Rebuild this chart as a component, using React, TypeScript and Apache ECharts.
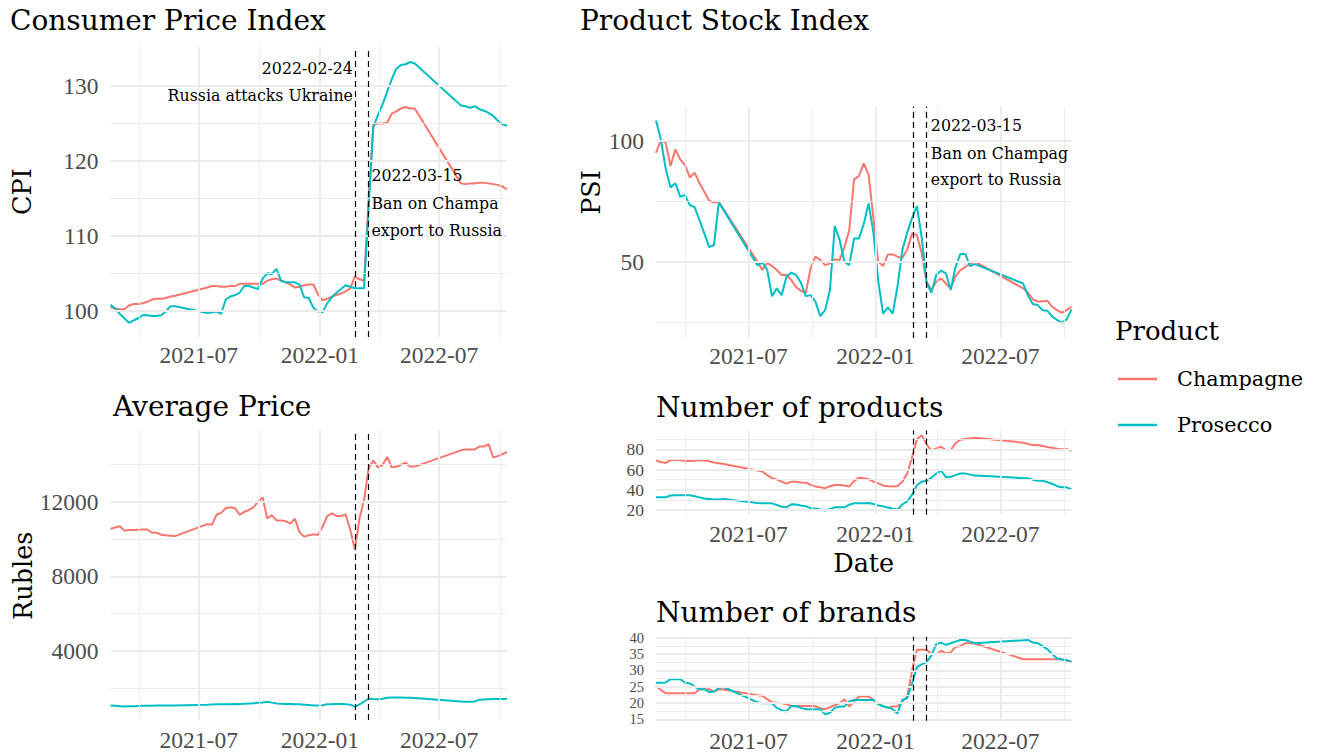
import React, { useEffect, useRef } from "react";
import * as echarts from "echarts";

// ---------------- data ----------------
const dates = [
  "2021-02-17","2021-02-24","2021-03-03","2021-03-10","2021-03-17","2021-03-24","2021-03-31","2021-04-07","2021-04-14","2021-04-21","2021-04-28","2021-05-05","2021-05-12","2021-05-19","2021-05-26",
  "2021-07-14","2021-07-21","2021-07-28","2021-08-04","2021-08-11","2021-08-18","2021-08-25","2021-09-01","2021-09-08","2021-09-15","2021-09-22","2021-09-29","2021-10-06","2021-10-13","2021-10-20","2021-10-27","2021-11-03","2021-11-10","2021-11-17","2021-11-24","2021-12-01","2021-12-08","2021-12-15","2021-12-22","2021-12-29","2022-01-05","2022-01-12","2022-01-19","2022-01-26","2022-02-02","2022-02-09","2022-02-16","2022-02-23","2022-03-02","2022-03-09","2022-03-16","2022-03-23","2022-03-30","2022-04-06","2022-04-13","2022-04-20","2022-04-27","2022-05-04","2022-05-11","2022-05-18","2022-05-25",
  "2022-08-03","2022-08-10","2022-08-17","2022-08-24","2022-08-31","2022-09-07","2022-09-14","2022-09-21","2022-09-28","2022-10-05","2022-10-12",
];

const cpiChampagne = [
  100.5,100.3,100.2,100.2,100.7,100.9,100.9,101.0,101.2,101.5,101.6,101.6,101.7,101.9,102.0,
  103.1,103.3,103.3,103.2,103.2,103.3,103.3,103.6,103.6,103.6,103.6,103.6,103.6,104.0,104.2,104.3,104.0,103.8,103.5,103.1,103.2,103.4,103.5,103.5,102.2,101.4,101.6,101.9,102.1,102.3,102.6,103.0,104.6,104.2,104.0,115.0,124.8,125.0,125.0,125.1,126.3,126.6,127.0,127.2,127.0,127.0,
  117.0,116.9,117.0,117.0,117.1,117.1,117.0,116.9,116.8,116.6,116.2,
];
const cpiProsecco = [
  100.8,100.3,99.6,99.0,98.4,98.7,99.0,99.4,99.4,99.3,99.3,99.4,99.9,100.6,100.6,
  99.7,99.8,99.9,99.6,101.5,101.9,102.1,102.4,103.3,103.3,103.1,102.9,104.3,105.0,104.9,105.6,104.0,103.8,103.8,103.8,103.5,101.8,101.7,100.4,99.9,99.8,101.0,101.8,102.4,102.9,103.4,103.2,103.0,103.0,103.0,114.0,124.5,126.1,127.5,129.2,130.9,132.3,132.8,132.9,133.2,133.0,
  127.4,127.3,127.1,127.3,126.9,126.7,126.4,126.0,125.4,124.9,124.7,
];
const priceChampagne = [
  10550,10620,10690,10450,10480,10490,10500,10510,10510,10340,10340,10230,10200,10180,10160,
  10800,10760,11300,11400,11650,11700,11650,11300,11450,11560,11690,12000,12230,11100,11270,11000,10990,10960,10820,11090,10360,10130,10200,10250,10230,10660,11230,11370,11240,11230,11320,10500,9450,11100,12100,13800,14200,13840,13960,14400,13840,13870,13980,14090,13880,13880,
  14750,14800,14800,14800,14950,14950,15090,14380,14440,14550,14660,
];
const priceProsecco = [
  1090,1070,1050,1030,1040,1050,1060,1070,1070,1070,1080,1080,1080,1080,1080,
  1130,1140,1150,1150,1160,1160,1170,1160,1180,1200,1210,1230,1250,1290,1240,1200,1180,1170,1170,1160,1150,1130,1110,1090,1080,1100,1150,1160,1170,1170,1160,1130,1030,1150,1290,1460,1430,1420,1450,1500,1520,1510,1510,1500,1500,1490,
  1300,1290,1290,1300,1400,1410,1420,1430,1440,1440,1450,
];
const psiChampagne = [
  95.0,100.0,99.2,89.5,96.4,92.3,89.9,84.8,86.8,82.4,78.9,75.2,74.4,74.8,71.7,
  50.0,46.6,49.6,48.2,46.6,44.5,44.5,42.4,39.5,38.0,37.2,47.2,52.1,50.7,48.6,49.3,51.0,50.7,56.0,63.0,84.0,85.4,90.6,86.0,68.0,50.0,48.2,53.0,53.0,52.1,51.6,55.0,61.7,61.0,53.4,41.7,38.3,41.7,43.1,41.0,39.0,44.0,46.5,47.9,49.0,50.0,
  39.0,37.2,34.5,33.5,33.7,33.9,31.4,30.0,28.9,30.0,31.4,
];
const psiProsecco = [
  108.3,100.5,88.5,80.7,82.4,76.9,77.5,73.4,72.5,67.2,61.7,56.0,56.9,74.4,71.3,
  48.5,49.6,46.8,35.8,39.0,36.2,43.8,45.5,44.5,41.3,35.8,36.2,33.5,27.5,30.0,38.3,64.7,59.0,50.0,48.6,59.6,59.6,65.6,74.1,62.0,42.0,28.6,31.1,28.6,40.0,55.0,62.0,68.0,73.0,60.0,41.3,37.2,44.5,46.3,45.2,38.3,47.9,53.2,53.2,48.2,49.0,
  41.0,36.0,32.5,32.1,30.0,29.8,27.3,26.0,24.8,26.2,30.3,
];
const productsChampagne = [
  69.1,67.5,66.5,69.4,69.4,69.4,68.4,68.4,68.6,69.3,69.0,68.2,67.0,66.3,65.5,
  59.0,58.0,54.5,51.5,50.3,48.0,46.0,48.0,48.0,47.2,47.0,45.0,43.3,42.6,41.6,43.5,44.7,44.7,44.3,43.3,48.5,52.0,51.5,50.5,48.0,46.3,44.3,43.5,43.3,43.7,48.0,56.0,72.0,90.0,94.0,85.0,79.0,81.0,82.5,79.3,79.5,86.0,89.5,90.3,91.0,91.4,
  86.6,85.2,84.3,84.3,83.3,82.2,81.6,80.5,80.0,80.0,78.3,
];
const productsProsecco = [
  32.5,32.5,32.6,34.3,34.5,34.5,34.5,34.5,33.6,32.5,31.3,30.8,30.3,30.3,31.0,
  27.0,26.6,26.6,26.6,25.0,23.2,22.6,25.6,25.5,24.5,23.8,21.8,21.6,20.6,19.5,21.0,22.6,22.6,22.6,25.2,26.6,26.6,26.6,27.0,26.0,24.4,23.6,22.5,21.2,20.3,25.5,28.5,35.0,44.5,48.0,49.0,51.8,56.0,59.0,52.5,52.8,54.5,56.2,56.2,55.0,54.0,
  51.5,51.3,50.0,49.0,49.0,47.5,46.0,43.5,42.4,42.4,40.4,
];
const brandsChampagne = [
  25.2,24.0,23.0,23.0,23.0,23.0,23.0,23.0,23.0,24.2,24.2,24.2,23.5,24.2,24.1,
  22.4,22.2,21.2,20.2,20.1,20.0,19.6,19.1,19.1,19.1,19.1,19.1,19.0,18.4,18.1,18.7,19.3,20.0,21.1,18.9,20.5,22.0,22.0,22.0,21.0,19.9,19.0,18.5,18.9,19.0,20.5,22.0,30.0,36.3,36.3,36.3,35.0,35.0,36.0,35.2,35.5,37.2,37.4,38.3,38.3,38.2,
  33.4,33.4,33.4,33.4,33.4,33.4,33.4,33.4,33.3,33.0,32.7,
];
const brandsProsecco = [
  26.2,26.2,26.3,27.3,27.3,27.3,26.2,26.0,25.0,24.2,24.2,23.3,23.5,24.6,24.9,
  20.2,19.9,19.9,19.9,18.5,17.8,17.4,19.1,19.0,18.5,18.1,18.1,18.1,18.1,16.5,17.0,18.5,18.9,18.9,20.5,20.9,20.9,20.9,20.9,20.9,19.6,19.0,18.6,18.1,16.8,21.0,21.4,26.0,31.0,31.8,32.5,34.5,38.0,38.5,37.8,38.3,38.8,39.3,39.3,38.8,38.3,
  39.2,39.3,38.5,38.3,37.4,36.5,35.0,33.6,33.3,33.2,32.4,
];

const xTicks = ["2021-07-01", "2022-01-01", "2022-07-01"];
const xMinorTicks = ["2021-04-01", "2021-10-01", "2022-04-01", "2022-10-01"];
const eventDates = ["2022-02-24", "2022-03-15"];

const cpiTicks = [100, 110, 120, 130];
const cpiMinor = [105, 115, 125];
const priceTicks = [4000, 8000, 12000];
const priceMinor = [2000, 6000, 10000, 14000];
const psiTicks = [50, 100];
const psiMinor = [25, 75];
const productTicks = [20, 40, 60, 80];
const productMinor = [30, 50, 70, 90];
const brandTicks = [15, 20, 25, 30, 35, 40];
const brandMinor = [17.5, 22.5, 27.5, 32.5, 37.5];

const seriesNames = ["Champagne", "Prosecco"];

// ---------------- style / layout ----------------
const FONT = "'DejaVu Serif', serif";
const NUM_FONT = "'Liberation Serif', serif";
const RED = "#F8766D";
const TEAL = "#00BFC4";
const GRID = "#EBEBEB";
const LABEL = "#4D4D4D";

function ts(s: string): number {
  const [y, m, d] = s.split("-").map(Number);
  return Date.UTC(y, m - 1, d);
}

const panels = [
  { grid: { left: 110.5, top: 47, width: 396.5, height: 290 }, yMin: 96.5, yMax: 135.2, major: cpiTicks, minor: cpiMinor, champ: cpiChampagne, pros: cpiProsecco, xMargin: 6, yFont: 23.5 },
  { grid: { left: 110.5, top: 430, width: 396.5, height: 290 }, yMin: 310, yMax: 15840, major: priceTicks, minor: priceMinor, champ: priceChampagne, pros: priceProsecco, xMargin: 8, yFont: 23.5 },
  { grid: { left: 656, top: 106.5, width: 415.5, height: 231.5 }, yMin: 18.5, yMax: 114.1, major: psiTicks, minor: psiMinor, champ: psiChampagne, pros: psiProsecco, xMargin: 6, yFont: 23.5 },
  { grid: { left: 656, top: 430.5, width: 415.5, height: 84 }, yMin: 15.55, yMax: 98.6, major: productTicks, minor: productMinor, champ: productsChampagne, pros: productsProsecco, xMargin: 7.5, yFont: 17.5 },
  { grid: { left: 656, top: 636.7, width: 415.5, height: 84 }, yMin: 14.57, yMax: 40.3, major: brandTicks, minor: brandMinor, champ: brandsChampagne, pros: brandsProsecco, xMargin: 8, yFont: 14.5 },
];

function fmtMonth(v: number): string {
  const d = new Date(v);
  return `${d.getUTCFullYear()}-${String(d.getUTCMonth() + 1).padStart(2, "0")}`;
}

function buildOption() {
  const xMin = ts(dates[0]);
  const xMax = ts(dates[dates.length - 1]);
  const grid = panels.map((p) => ({ ...p.grid, containLabel: false }));
  const xAxis = panels.map((p, i) => ({
    type: "value",
    gridIndex: i,
    min: xMin,
    max: xMax,
    axisLine: { show: false },
    axisTick: { show: false },
    splitLine: { show: false },
    axisLabel: {
      customValues: xTicks.map(ts),
      formatter: (v: number) => fmtMonth(v),
      color: LABEL,
      fontFamily: NUM_FONT,
      fontSize: 23.5,
      margin: p.xMargin,
      showMinLabel: true,
      showMaxLabel: true,
    },
  }));
  const yAxis = panels.map((p, i) => ({
    type: "value",
    gridIndex: i,
    min: p.yMin,
    max: p.yMax,
    axisLine: { show: false },
    axisTick: { show: false },
    splitLine: { show: false },
    axisLabel: { show: false },
  }));
  const series: any[] = [];
  panels.forEach((p, i) => {
    const gl = (w: number) => ({ color: GRID, width: w, type: "solid" });
    series.push({
      type: "line",
      xAxisIndex: i,
      yAxisIndex: i,
      data: [],
      z: 1,
      silent: true,
      markLine: {
        silent: true,
        animation: false,
        symbol: ["none", "none"],
        label: { show: false },
        emphasis: { disabled: true },
        data: [
          ...xMinorTicks.map((d) => ({ xAxis: ts(d), lineStyle: gl(0.9) })),
          ...p.minor.map((v) => ({ yAxis: v, lineStyle: gl(0.9) })),
          ...xTicks.map((d) => ({ xAxis: ts(d), lineStyle: gl(1.8) })),
          ...p.major.map((v) => ({ yAxis: v, lineStyle: gl(1.8) })),
        ],
      },
    });
    [p.champ, p.pros].forEach((vals, k) => {
      const color = k === 0 ? RED : TEAL;
      series.push({
        name: seriesNames[k],
        type: "line",
        xAxisIndex: i,
        yAxisIndex: i,
        data: dates.map((d, j) => [ts(d), vals[j]]),
        showSymbol: false,
        symbol: "none",
        color,
        lineStyle: { color, width: 2 },
        itemStyle: { color },
        z: 3,
        emphasis: { disabled: true },
      });
    });
    series.push({
      type: "line",
      xAxisIndex: i,
      yAxisIndex: i,
      data: [],
      z: 5,
      silent: true,
      markLine: {
        silent: true,
        animation: false,
        symbol: ["none", "none"],
        label: { show: false },
        emphasis: { disabled: true },
        lineStyle: { color: "#000", width: 1.2, type: [6, 4] },
        data: eventDates.map((d) => ({ xAxis: ts(d) })),
      },
    });
  });

  return {
    animation: false,
    backgroundColor: "#fff",
    grid,
    xAxis,
    yAxis,
    series,
    legend: {
      data: seriesNames,
      orient: "vertical",
      left: 1113,
      top: 362,
      icon: "rect",
      itemWidth: 39,
      itemHeight: 2.5,
      itemGap: 22,
      selectedMode: false,
      textStyle: { fontFamily: FONT, fontSize: 20.8, color: "#000", lineHeight: 24, padding: [0, 0, 0, 15] },
    },
  };
}

function txt(text: string, x: number, y: number, size: number, extra: any = {}, styleExtra: any = {}) {
  return {
    type: "text",
    x,
    y,
    silent: true,
    z: 10,
    ...extra,
    style: { text, fontFamily: FONT, fontSize: size, fill: "#000", verticalAlign: "middle", align: "left", ...styleExtra },
  };
}

export default function App() {
  const ref = useRef<HTMLDivElement>(null);
  useEffect(() => {
    const chart = echarts.init(ref.current!, null, { renderer: "svg" });
    chart.setOption(buildOption() as any);

    const cpiA = chart.convertToPixel({ xAxisIndex: 0 }, ts(eventDates[0])) as number;
    const cpiB = chart.convertToPixel({ xAxisIndex: 0 }, ts(eventDates[1])) as number;
    const psiB = chart.convertToPixel({ xAxisIndex: 2 }, ts(eventDates[1])) as number;
    const cpiRight = panels[0].grid.left + panels[0].grid.width;
    const psiRight = panels[2].grid.left + panels[2].grid.width;
    const AN = 15.8;
    const rot = { rotation: Math.PI / 2 };

    // y-axis tick labels placed through each panel's own y scale
    const yLabels: any[] = [];
    panels.forEach((p, i) => {
      p.major.forEach((v) => {
        const py = chart.convertToPixel({ yAxisIndex: i }, v) as number;
        yLabels.push(
          txt(String(v), p.grid.left - 12, py, p.yFont, {}, { align: "right", fontFamily: NUM_FONT, fill: LABEL })
        );
      });
    });

    chart.setOption({
      graphic: [
        ...yLabels,
        txt("Consumer Price Index", 10, 20.5, 28),
        txt("Product Stock Index", 580, 20.5, 28),
        txt("Average Price", 113, 406.7, 28),
        txt("Number of products", 656, 407, 28),
        txt("Number of brands", 656, 612.5, 28),
        txt("CPI", 21.7, 191.7, 25.5, rot, { align: "center" }),
        txt("Rubles", 22.5, 575.8, 25.5, rot, { align: "center" }),
        txt("PSI", 590.8, 192.5, 25.5, rot, { align: "center" }),
        txt("Date", 863.7, 563, 25.5, {}, { align: "center" }),
        txt("Product", 1115, 331, 26),
        txt("2022-02-24", cpiA - 2.6, 68.3, AN, {}, { align: "right" }),
        txt("Russia attacks Ukraine", cpiA - 2.6, 95.3, AN, {}, { align: "right" }),
        txt("2022-03-15", cpiB + 3.4, 175, AN),
        txt("Ban on Champagne", cpiB + 3.4, 203.3, AN, {}, { width: cpiRight - cpiB - 3.4, overflow: "truncate", ellipsis: "" }),
        txt("export to Russia", cpiB + 3.4, 230, AN),
        txt("2022-03-15", psiB + 5, 125.5, AN),
        txt("Ban on Champagne", psiB + 5, 153, AN, {}, { width: psiRight - psiB - 5, overflow: "truncate", ellipsis: "" }),
        txt("export to Russia", psiB + 5, 179.5, AN),
      ],
    } as any);

    return () => chart.dispose();
  }, []);
  return <div ref={ref} style={{ position: "fixed", left: 0, top: 0, width: 1319, height: 755, background: "#fff" }} />;
}
